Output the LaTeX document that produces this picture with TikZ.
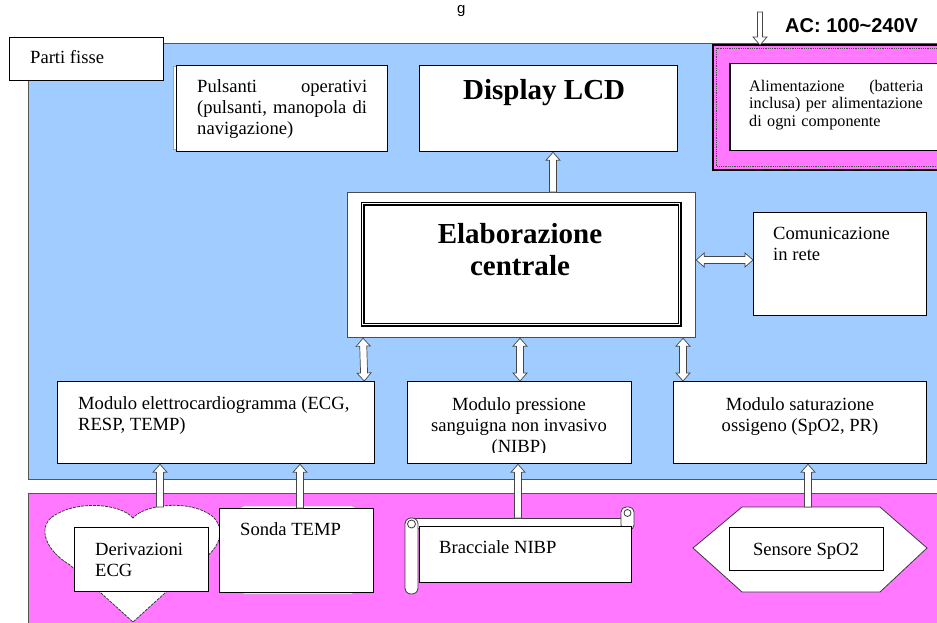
\documentclass[tikz,border=0pt]{standalone}
\usepackage{fontspec}
\setmainfont{Liberation Serif}
\newfontfamily\sansb{Liberation Sans}
\usetikzlibrary{calc}
\definecolor{bluebg}{RGB}{160,204,255}
\definecolor{pinkbg}{RGB}{255,120,255}
\definecolor{regframe}{RGB}{85,85,85}
\newcommand\fsm{\fontsize{18.6}{21}\selectfont}
\newcommand\fss{\fontsize{16.2}{17.5}\selectfont}
\newcommand\fbig{\fontsize{29}{32}\selectfont\bfseries}
\tikzset{
  box/.style={draw=black, line width=1.3pt, fill=white, inner sep=0pt, anchor=north west},
  txt/.style={inner sep=0pt, font=\fsm},
  blockarr/.style={draw=gray!55!black, fill=white, line width=0.7pt},
  shapeline/.style={draw=gray!45!black, fill=white, line width=0.8pt},
}
% single-headed hollow block arrow from #2 to #3, shaft half width #1
\newcommand\sarrow[3][3.5]{%
  \draw[blockarr] let \p1=(#2), \p2=(#3),
    \n1={atan2(\y2-\y1,\x2-\x1)}, \n2={veclen(\x2-\x1,\y2-\y1)} in
    {[shift={(\p1)}, rotate=\n1]
     (0pt,-#1pt) -- ({(\n2-8)*1pt},-#1pt) -- ({(\n2-8)*1pt},-7pt) -- ({\n2*1pt},0pt)
     -- ({(\n2-8)*1pt},7pt) -- ({(\n2-8)*1pt},#1pt) -- (0pt,#1pt) -- cycle};
}
% double-headed hollow block arrow
\newcommand\darrow[3][3.5]{%
  \draw[blockarr] let \p1=(#2), \p2=(#3),
    \n1={atan2(\y2-\y1,\x2-\x1)}, \n2={veclen(\x2-\x1,\y2-\y1)} in
    {[shift={(\p1)}, rotate=\n1]
     (0pt,0pt) -- (8pt,-7pt) -- (8pt,-#1pt) -- ({(\n2-8)*1pt},-#1pt) -- ({(\n2-8)*1pt},-7pt)
     -- ({\n2*1pt},0pt) -- ({(\n2-8)*1pt},7pt) -- ({(\n2-8)*1pt},#1pt) -- (8pt,#1pt)
     -- (8pt,7pt) -- cycle};
}
\begin{document}
\begin{tikzpicture}[x=1pt,y=-1pt]
\useasboundingbox (0,0) rectangle (937,623);
\fill[white] (0,0) rectangle (937,623);

% title fragment
\node[inner sep=0pt, anchor=base west, font=\sansb\fontsize{15}{18}\selectfont] (tg) at (457,14) {g};

% regions
\fill[bluebg] (28,44) rectangle (950,479);
\draw[regframe, line width=1pt] (950,44) -- (28,44) -- (28,479) -- (950,479);
\fill[pinkbg] (28,493) rectangle (950,640);
\draw[regframe, line width=1pt] (950,493) -- (28,493) -- (28,640);

% Parti fisse
\node[box, minimum width=154pt, minimum height=43pt] (parti) at (9,37) {};
\node[txt, anchor=base west] (tparti) at (30,64) {Parti fisse};

% Pulsanti
\draw[gray!70, fill=white, line width=0.8pt] (173,66) rectangle (384,149);
\node[box, minimum width=211pt, minimum height=86pt] (puls) at (176,65) {};
\node[txt, anchor=north west, text width=170pt, align=left] (tpuls) at (197,77.3)
  {\strut Pulsanti\hfill operativi\\(pulsanti, manopola di\\navigazione)};

% Display
\node[box, minimum width=258pt, minimum height=86pt] (disp) at (419,65) {};
\node[inner sep=0pt, anchor=base west, font=\fbig] (tdisp) at (463,100) {Display LCD};

% Alimentazione
\draw[black, line width=1.4pt, fill=pinkbg] (713,45) rectangle (955,170);
\draw[black!70, line width=0.8pt, densely dotted] (716.5,48.5) rectangle (955,166.5);
\node[box, line width=1.5pt, minimum width=226pt, minimum height=87pt] (alim) at (729,63) {};
\node[inner sep=0pt, font=\fss, anchor=north west, text width=174pt, align=left] (talim) at (749,78.75)
  {\hyphenpenalty=10000\strut Alimentazione\hfill(batteria\\\mbox{inclusa) per alimentazione}\\di ogni componente};
\coordinate (acstart) at (760,12);
\coordinate (alimtop) at (760,45);
\node[inner sep=0pt, anchor=base west, font=\sansb\bfseries\fontsize{20}{24}\selectfont] (tac) at (785,33)
  {AC: 100\textasciitilde 240V};

% Elaborazione centrale
\node[box, draw=gray!60!black, line width=1.2pt, minimum width=348pt, minimum height=145pt] (elab) at (347,192) {};
\node[box, line width=1.2pt, double=white, double distance=1.6pt, minimum width=317pt, minimum height=121pt] (elabin) at (362,203) {};
\node[inner sep=0pt, anchor=north, align=center, font=\fbig] (telab) at (520,220.6)
  {\strut Elaborazione\\centrale};

% Comunicazione
\node[box, minimum width=173pt, minimum height=103pt] (comm) at (753,212) {};
\node[txt, anchor=north west, align=left] (tcomm) at (773,224.3) {\strut Comunicazione\\in rete};

% Modules
\node[box, minimum width=317pt, minimum height=82pt] (mecg) at (57,381) {};
\node[txt, anchor=north west, align=left] (tecg) at (78,394.3)
  {\strut Modulo elettrocardiogramma (ECG,\\RESP, TEMP)};
\node[box, minimum width=224pt, minimum height=82pt] (mnibp) at (407,381) {};
\begin{scope}
  \clip (407,381) rectangle (631,452);
  \node[txt, anchor=north, align=center] (tnibp) at (519,395.3)
    {\strut Modulo pressione\\sanguigna non invasivo\\(NIBP)};
\end{scope}
\node[box, minimum width=253pt, minimum height=82pt] (mspo) at (673,381) {};
\node[txt, anchor=north, align=center] (tspo) at (800,395.3)
  {\strut Modulo saturazione\\ossigeno (SpO2, PR)};

% Heart with Derivazioni ECG
\draw[shapeline, dash pattern=on 3pt off 1pt]
  (133,518) .. controls (120,503) and (75,500) .. (52,517)
  .. controls (38,528) and (45,550) .. (70,565) -- (133,622) -- (198,563)
  .. controls (222,548) and (226,528) .. (212,516)
  .. controls (192,500) and (146,503) .. (133,518) -- cycle;
\coordinate (hearttop) at (160,507);
\node[box, minimum width=134pt, minimum height=64pt] (deriv) at (74,527) {};
\node[txt, anchor=north west, align=left] (tderiv) at (95,540.3) {\strut Derivazioni\\ECG};

% Sonda TEMP
\draw[gray!60, fill=white, line width=0.8pt, rounded corners=4pt] (240,506) rectangle (356,594);
\node[box, minimum width=154pt, minimum height=84pt] (sonda) at (219,508) {};
\node[txt, anchor=base west] (tsonda) at (240,535) {Sonda TEMP};

% Bracciale NIBP (scroll)
\draw[shapeline] (412,518) rectangle (630,528);
\draw[shapeline, rounded corners=5pt] (621,507) rectangle (634,530);
\draw[shapeline] (627.5,513) circle (3.5);
\draw[shapeline, rounded corners=6pt] (405,518) rectangle (418,594);
\draw[shapeline] (411.5,524) circle (4);
\coordinate (bracctop) at (518,518);
\node[box, minimum width=212pt, minimum height=56pt] (bracc) at (419,526) {};
\node[txt, anchor=base west] (tbracc) at (439,553) {Bracciale NIBP};

% Sensore SpO2 (hexagon)
\draw[shapeline] (693,548) -- (742,507) -- (880,507) -- (927,548) -- (880,592) -- (742,592) -- cycle;
\coordinate (hextop) at (808,507);
\node[box, minimum width=154pt, minimum height=43pt] (sens) at (729,527) {};
\node[txt, anchor=base] (tsens) at (806,555) {Sensore SpO2};

% Arrows
\sarrow[2.5]{acstart}{alimtop}
\sarrow{$(elab.north west)+(206,0)$}{$(disp.south west)+(134,0)$}
\darrow{$(elab.north east)+(0,68)$}{$(comm.north west)+(0,48)$}
\darrow{$(elab.south west)+(16,0)$}{$(mecg.north east)+(-11,0)$}
\darrow{$(elab.south west)+(173,0)$}{$(mnibp.north west)+(113,0)$}
\darrow{$(elab.south west)+(336,0)$}{$(mspo.north west)+(10,0)$}
\sarrow{hearttop}{$(mecg.south west)+(103,0)$}
\sarrow{$(sonda.north west)+(81,0)$}{$(mecg.south west)+(243,0)$}
\sarrow{bracctop}{$(mnibp.south west)+(111,0)$}
\sarrow{hextop}{$(mspo.south west)+(135,0)$}
\end{tikzpicture}
\end{document}
